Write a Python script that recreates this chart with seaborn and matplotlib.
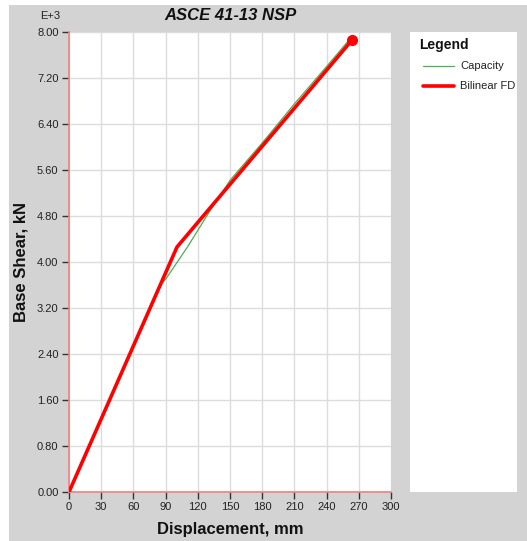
import matplotlib
matplotlib.use("Agg")
import matplotlib.pyplot as plt
import seaborn as sns
import pandas as pd
from matplotlib.patches import Rectangle
from matplotlib.lines import Line2D

# Data (base shear in E+3 kN)
cap_disp = [0, 85, 90, 110, 130, 150, 180, 210, 240, 260]
cap_shear = [0, 3.60, 3.70, 4.25, 4.85, 5.42, 6.07, 6.75, 7.40, 7.84]
bil_disp = [0, 100.6, 263.7]
bil_shear = [0, 4.26, 7.86]
x_ticks = [0, 30, 60, 90, 120, 150, 180, 210, 240, 270, 300]
y_ticks = [0.0, 0.8, 1.6, 2.4, 3.2, 4.0, 4.8, 5.6, 6.4, 7.2, 8.0]

sns.set_theme(style="white")
plt.rcParams['font.family'] = ['Liberation Sans', 'DejaVu Sans']

W, H = 527, 541
fig = plt.figure(figsize=(W / 100, H / 100), dpi=100, facecolor="white")
fig.patches.append(Rectangle((9 / W, 0), 1 - 9 / W, 1 - 5 / H, transform=fig.transFigure,
                             facecolor="#d3d3d3", edgecolor="none", zorder=-10))

ax = fig.add_axes([69 / W, 1 - 492 / H, (391 - 69) / W, (492 - 32) / H])
ax.set_facecolor("white")

cap = pd.DataFrame({"d": cap_disp, "v": cap_shear})
bil = pd.DataFrame({"d": bil_disp, "v": bil_shear})
sns.lineplot(data=cap, x="d", y="v", ax=ax, color="#4caf50", lw=0.9, zorder=3, sort=False)
sns.lineplot(data=bil, x="d", y="v", ax=ax, color="#ff0000", lw=2.6, zorder=4, sort=False)
ax.plot([bil_disp[-1]], [bil_shear[-1]], "o", color="#ff0000", ms=7, zorder=5, clip_on=False)

ax.set_xlim(0, 300)
ax.set_ylim(0, 8)
ax.set_xticks(x_ticks)
ax.set_yticks(y_ticks)
ax.set_xticklabels([str(t) for t in x_ticks])
ax.set_yticklabels([f"{t:.2f}" for t in y_ticks])
ax.grid(True, color="#dcdcdc", lw=1)
ax.set_axisbelow(True)
ax.tick_params(axis="both", which="both", direction="out", length=5, width=1, color="#333333",
               labelsize=8, labelcolor="#222222", left=True, bottom=True, pad=2.5)
for s in ["top", "right"]:
    ax.spines[s].set_visible(False)
for s in ["left", "bottom"]:
    ax.spines[s].set_color("#f08080")
    ax.spines[s].set_linewidth(1.2)

ax.set_xlabel("Displacement, mm", fontsize=12, fontweight="bold", color="#111111", labelpad=7)
ax.set_ylabel("Base Shear, kN", fontsize=12, fontweight="bold", color="#111111", labelpad=6)
ax.set_title("ASCE 41-13 NSP", fontsize=12, fontweight="bold", style="italic", color="#111111", pad=9)
fig.text(50 / W, 1 - 16 / H, "E+3", fontsize=8, ha="center", va="center", color="#222222")

# Legend panel
lax = fig.add_axes([410 / W, 1 - 492 / H, (517 - 410) / W, (492 - 32) / H])
lax.set_facecolor("white")
lax.set_xticks([]); lax.set_yticks([])
for s in lax.spines.values():
    s.set_visible(False)
lax.set_xlim(0, 107); lax.set_ylim(460, 0)
lax.text(9, 13, "Legend", fontsize=10, fontweight="bold", va="center", ha="left", color="#111111")
lax.add_line(Line2D([13, 44], [34, 34], color="#4caf50", lw=0.9))
lax.text(50, 34, "Capacity", fontsize=8, va="center", ha="left", color="#222222")
lax.add_line(Line2D([13, 44], [54, 54], color="#ff0000", lw=2.6))
lax.text(50, 54, "Bilinear FD", fontsize=8, va="center", ha="left", color="#222222")

fig.savefig("out.png", dpi=100, facecolor=fig.get_facecolor())
